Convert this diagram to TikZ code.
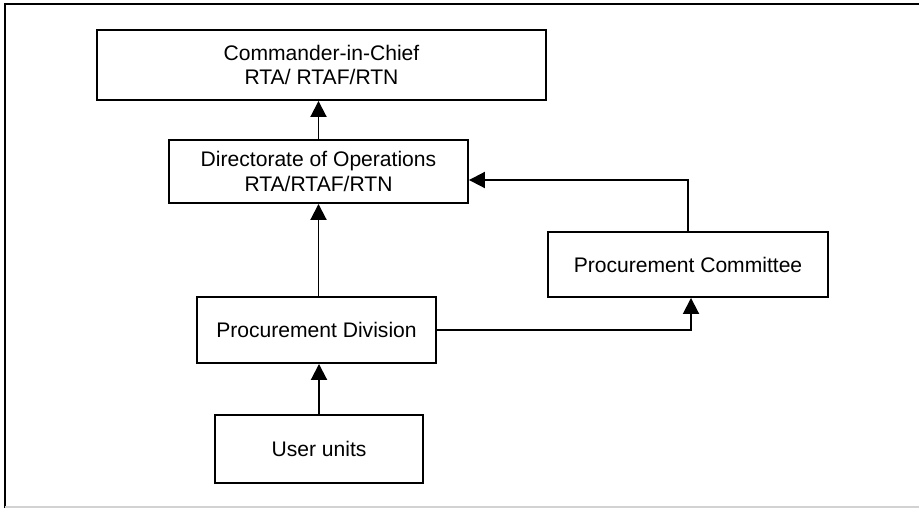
\documentclass[tikz,border=0pt]{standalone}
\usepackage{fontspec}
\setmainfont{Liberation Sans}
\usetikzlibrary{arrows.meta}
\begin{document}
\begin{tikzpicture}[x=0.02cm, y=-0.02cm,
    box/.style={draw, line width=1.1pt, inner sep=0pt, align=center,
        font=\fontsize{12}{14}\selectfont},
    arr/.style={-{Triangle[length=0.32cm, width=0.32cm]}, line width=1.1pt}]
    \useasboundingbox (0,0) rectangle (919,508);
    \draw[line width=1.5pt] (5,508) -- (5,4) -- (919,4);
    \draw[gray!35, line width=0.8pt] (5,507) -- (919,507);
    \node[box, minimum width=8.98cm, minimum height=1.4cm] (cinc) at (321.5,65) {Commander-in-Chief\\RTA/ RTAF/RTN};
    \node[box, minimum width=5.98cm, minimum height=1.26cm] (dirop) at (318.5,171.5) {Directorate of Operations\\RTA/RTAF/RTN};
    \node[box, minimum width=5.6cm, minimum height=1.3cm] (pcomm) at (688,264.5) {Procurement Committee};
    \node[box, minimum width=4.78cm, minimum height=1.32cm] (pdiv) at (316.5,330) {Procurement Division};
    \node[box, minimum width=4.16cm, minimum height=1.36cm] (users) at (319,449) {User units};
    \draw[arr] (users.north) -- (users.north |- pdiv.south);
    \draw[arr] (dirop.south |- pdiv.north) -- (dirop.south);
    \draw[arr] (dirop.north) -- (dirop.north |- cinc.south);
    \draw[arr] (pdiv.east) -| ([xshift=0.06cm]pcomm.south);
    \draw[arr] (pcomm.north) |- ([yshift=-0.17cm]dirop.east);
\end{tikzpicture}
\end{document}
